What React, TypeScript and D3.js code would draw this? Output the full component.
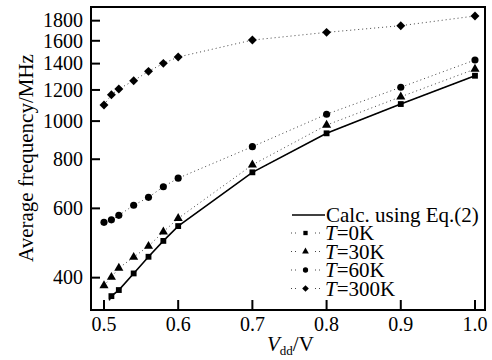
import React, { useEffect, useRef } from 'react';
import * as d3 from 'd3';

// Vdd values (V)
const vddLow = [0.5, 0.51, 0.52, 0.54, 0.56, 0.58, 0.6, 0.7, 0.8, 0.9, 1.0];
const vddT0 = [0.51, 0.52, 0.54, 0.56, 0.58, 0.6, 0.7, 0.8, 0.9, 1.0];
const vddCalc = [0.507, 0.51, 0.52, 0.54, 0.56, 0.58, 0.6, 0.7, 0.8, 0.9, 1.0];

// average frequency (MHz)
const freqT0 = [359, 372, 410, 452, 496, 541, 741, 931, 1105, 1304];
const freqT30 = [382, 401, 423, 451, 481, 523, 566, 774, 977, 1153, 1356];
const freqT60 = [553, 561, 576, 611, 640, 681, 716, 861, 1041, 1219, 1430];
const freqT300 = [1099, 1167, 1207, 1267, 1338, 1402, 1455, 1607, 1681, 1748, 1850];
const freqCalc = [350, 359, 372, 410, 452, 496, 541, 741, 931, 1105, 1304];

const xTicks = [0.5, 0.6, 0.7, 0.8, 0.9, 1.0];
const yTicks = [400, 600, 800, 1000, 1200, 1400, 1600, 1800];

const legendLabels = ['0K', '30K', '60K', '300K'];

function App() {
  const svgRef = useRef<SVGSVGElement>(null);

  useEffect(() => {
    const svg = d3.select(svgRef.current);
    svg.selectAll('*').remove();

    const left = 91, right = 485, top = 7, bottom = 310;

    const x = d3.scaleLinear().domain([0.4825, 1.0135]).range([left, right]);
    const y = d3.scaleLog().domain([331, 1950]).range([bottom, top]);

    const g = svg.append('g').style('font-family', "'Liberation Serif', 'Times New Roman', Times, serif");

    // frame
    g.append('rect')
      .attr('x', left).attr('y', top)
      .attr('width', right - left).attr('height', bottom - top)
      .attr('fill', 'none').attr('stroke', '#000').attr('stroke-width', 2);

    // x ticks (inward)
    g.selectAll('.xt').data(xTicks).enter().append('line')
      .attr('x1', d => x(d)).attr('x2', d => x(d))
      .attr('y1', bottom).attr('y2', bottom - 10)
      .attr('stroke', '#000').attr('stroke-width', 2);
    g.selectAll('.xl').data(xTicks).enter().append('text')
      .attr('x', d => x(d)).attr('y', 331)
      .attr('text-anchor', 'middle')
      .attr('font-size', 20)
      .text(d => d.toFixed(1));

    // y ticks (inward)
    g.selectAll('.yt').data(yTicks).enter().append('line')
      .attr('x1', left).attr('x2', left + 9)
      .attr('y1', d => y(d)).attr('y2', d => y(d))
      .attr('stroke', '#000').attr('stroke-width', 2);
    g.selectAll('.yl').data(yTicks).enter().append('text')
      .attr('x', left - 8).attr('y', d => y(d))
      .attr('dy', '0.34em')
      .attr('text-anchor', 'end')
      .attr('font-size', 20)
      .text(d => String(d));

    // axis titles
    g.append('text')
      .attr('transform', 'translate(33,158) rotate(-90)')
      .attr('text-anchor', 'middle')
      .attr('font-size', 21)
      .text('Average frequency/MHz');

    const xl = g.append('text')
      .attr('x', 267).attr('y', 351)
      .attr('font-size', 21);
    xl.append('tspan').attr('font-style', 'italic').text('V');
    xl.append('tspan').attr('font-size', 13).attr('dy', 4).text('dd');
    xl.append('tspan').attr('dy', -4).text('/V');

    const line = d3.line<[number, number]>().x(d => x(d[0])).y(d => y(d[1]));

    const series = [
      { xs: vddT0, ys: freqT0, sym: d3.symbolSquare, size: 34, rot: 0 },
      { xs: vddLow, ys: freqT30, sym: d3.symbolTriangle, size: 36, rot: 0 },
      { xs: vddLow, ys: freqT60, sym: d3.symbolCircle, size: 40, rot: 0 },
      { xs: vddLow, ys: freqT300, sym: d3.symbolSquare, size: 40, rot: 45 },
    ];

    series.forEach(s => {
      const pts: [number, number][] = s.xs.map((v, i) => [v, s.ys[i]]);
      g.append('path')
        .attr('d', line(pts))
        .attr('fill', 'none').attr('stroke', '#444')
        .attr('stroke-width', 1).attr('stroke-dasharray', '1,3');
      g.selectAll(null).data(pts).enter().append('path')
        .attr('d', d3.symbol().type(s.sym).size(s.size)())
        .attr('transform', d => `translate(${x(d[0])},${y(d[1])}) rotate(${s.rot})`)
        .attr('fill', '#000');
    });

    // calculated curve
    const calcPts: [number, number][] = vddCalc.map((v, i) => [v, freqCalc[i]]);
    g.append('path')
      .attr('d', line(calcPts))
      .attr('fill', 'none').attr('stroke', '#000').attr('stroke-width', 1.6);

    // legend
    const lg = g.append('g');
    lg.append('line')
      .attr('x1', 292).attr('x2', 325).attr('y1', 215).attr('y2', 215)
      .attr('stroke', '#000').attr('stroke-width', 1.6);
    lg.append('text')
      .attr('x', 326).attr('y', 215).attr('dy', '0.34em')
      .attr('font-size', 21)
      .text('Calc. using Eq.(2)');

    series.forEach((s, i) => {
      const ly = 233 + i * 18.5;
      lg.append('line')
        .attr('x1', 291).attr('x2', 322).attr('y1', ly).attr('y2', ly)
        .attr('stroke', '#444').attr('stroke-width', 1).attr('stroke-dasharray', '1,3');
      lg.append('rect')
        .attr('x', 299).attr('y', ly - 4).attr('width', 13).attr('height', 8)
        .attr('fill', '#fff');
      lg.append('path')
        .attr('d', d3.symbol().type(s.sym).size(s.size * 0.55)())
        .attr('transform', `translate(305.5,${ly}) rotate(${s.rot})`)
        .attr('fill', '#000');
      const t = lg.append('text')
        .attr('x', 325).attr('y', ly).attr('dy', '0.34em')
        .attr('font-size', 21);
      t.append('tspan').attr('font-style', 'italic').text('T');
      t.append('tspan').text('=' + legendLabels[i]);
    });
  }, []);

  return (
    <svg
      ref={svgRef}
      width={492}
      height={360}
      style={{ position: 'absolute', left: 0, top: 0, background: '#fff' }}
    />
  );
}

export default App;
